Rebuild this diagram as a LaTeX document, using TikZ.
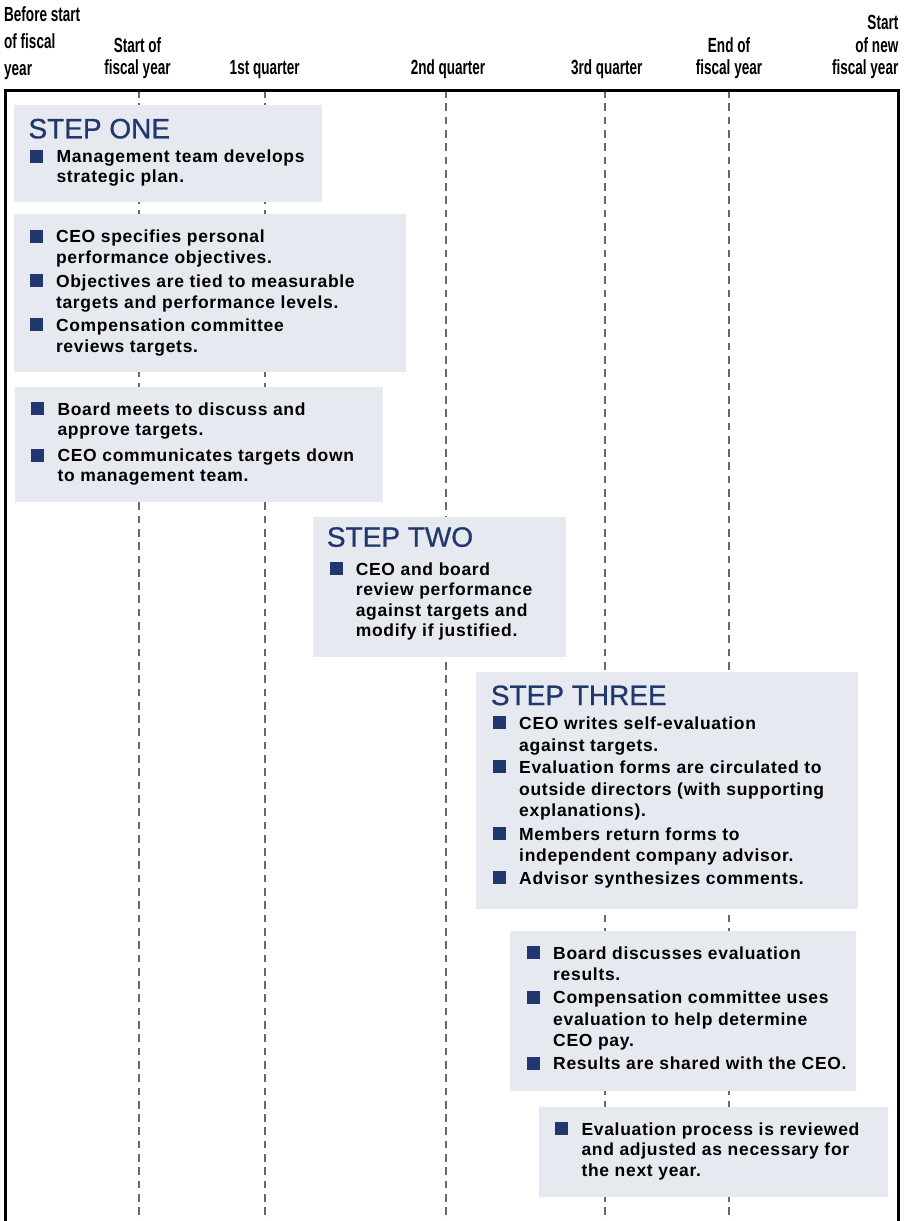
\documentclass[tikz,border=0pt]{standalone}
\usepackage{fontspec}
\setmainfont{Liberation Sans}
\newfontfamily\labelfont[FakeStretch=0.66]{Liberation Sans Bold}
\newfontfamily\bodyfont[LetterSpace=4]{Liberation Sans}
\newfontfamily\headfont[FakeBold=0.7]{Liberation Sans}
\usetikzlibrary{fit}

\definecolor{navy}{RGB}{33,56,110}
\definecolor{panelfill}{RGB}{230,233,239}
\definecolor{tickgray}{RGB}{105,105,105}

% navy square bullet followed by the indent of the item text
\newcommand\sqbullet{\makebox[26.3pt][l]{\textcolor{navy}{\rule{13pt}{13pt}}}}
% bulleted list; argument = line pitch
\newenvironment{bulletlist}[1]{\bodyfont\bfseries\fontsize{17.5}{#1}\selectfont\begin{tabular}[t]{@{}l@{}l@{}}}{\end{tabular}}
% stacked header label; arguments = column type, line pitch
\newenvironment{stack}[2]{\labelfont\fontsize{20.5}{#2}\selectfont\begin{tabular}[b]{@{}#1@{}}}{\end{tabular}}

\tikzset{
  panel/.style={fill=panelfill, draw=none, inner sep=0pt},
  heading/.style={anchor=base west, inner sep=0pt, text=navy, font=\headfont\fontsize{28}{30}\selectfont},
  items/.style={anchor=base west, inner sep=0pt},
  toplabel/.style={inner sep=0pt},
  timeline/.style={draw=tickgray, line width=2pt, dash pattern=on 7.7pt off 5.6pt},
  frame/.style={draw=black, line width=3pt}
}

\begin{document}
\begin{tikzpicture}[x=1pt, y=-1pt]
\useasboundingbox (0,0) rectangle (905,1221);

% time axis labels
\node[toplabel, anchor=base west] (lbefore) at (4,75) {\begin{stack}{l}{26.7}Before start\\ of fiscal\\ year\end{stack}};
\node[toplabel, anchor=base] (lstart) at (137.5,74.5) {\begin{stack}{c}{22.5}Start of\\ fiscal year\end{stack}};
\node[toplabel, anchor=base] (lq1) at (264.7,74.5) {\begin{stack}{c}{22.5}1st quarter\end{stack}};
\node[toplabel, anchor=base] (lq2) at (448,74.5) {\begin{stack}{c}{22.5}2nd quarter\end{stack}};
\node[toplabel, anchor=base] (lq3) at (606.8,74.5) {\begin{stack}{c}{22.5}3rd quarter\end{stack}};
\node[toplabel, anchor=base] (lend) at (729,74.5) {\begin{stack}{c}{22.5}End of\\ fiscal year\end{stack}};
\node[toplabel, anchor=base east] (lnew) at (898.5,74.5) {\begin{stack}{r}{22.5}Start\\ of new\\ fiscal year\end{stack}};

% dashed time markers
\foreach \name/\x in {tstart/139, tq1/265, tq2/446, tq3/605, tend/729}{
  \coordinate (\name-top) at (\x,90);
  \coordinate (\name-bot) at (\x,1221);
  \draw[timeline] (\name-top) -- (\name-bot);
}

% open frame
\coordinate (fbl) at (5,1225);
\coordinate (ftl) at (5,90);
\coordinate (ftr) at (898,90);
\coordinate (fbr) at (898,1225);
\draw[frame] (fbl) -- (ftl) -- (ftr) -- (fbr);

% panels
\node[panel, fit={(14,105) (322,202)}] (p1) {};
\node[panel, fit={(14,214) (406,372)}] (p2) {};
\node[panel, fit={(14.7,387.3) (382.7,501.7)}] (p3) {};
\node[panel, fit={(312.7,517.3) (565.7,656.7)}] (p4) {};
\node[panel, fit={(476,672) (857.7,909.3)}] (p5) {};
\node[panel, fit={(510,931) (856,1090.7)}] (p6) {};
\node[panel, fit={(539,1107.3) (887.7,1196.7)}] (p7) {};

% step one
\node[heading] (h1) at (28.3,138.3) {STEP ONE};
\node[items] (t1) at (30,162.7) {\begin{bulletlist}{20}
\sqbullet & Management team develops\\
 & strategic plan.
\end{bulletlist}};

\node[items] (t2) at (29.5,242.7) {\begin{bulletlist}{20.8}
\sqbullet & CEO specifies personal\\
 & performance objectives.\\[3pt]
\sqbullet & Objectives are tied to measurable\\
 & targets and performance levels.\\[2.5pt]
\sqbullet & Compensation committee\\
 & reviews targets.
\end{bulletlist}};

\node[items] (t3) at (31,415) {\begin{bulletlist}{20}
\sqbullet & Board meets to discuss and\\
 & approve targets.\\[6.7pt]
\sqbullet & CEO communicates targets down\\
 & to management team.
\end{bulletlist}};

% step two
\node[heading] (h2) at (326.7,546.7) {STEP TWO};
\node[items] (t4) at (329.3,575) {\begin{bulletlist}{20.5}
\sqbullet & CEO and board\\
 & review performance\\
 & against targets and\\
 & modify if justified.
\end{bulletlist}};

% step three
\node[heading] (h3) at (490.7,705) {STEP THREE};
\node[items] (t5) at (492.7,729.3) {\begin{bulletlist}{21.7}
\sqbullet & CEO writes self-evaluation\\
 & against targets.\\[0.6pt]
\sqbullet & Evaluation forms are circulated to\\
 & outside directors (with supporting\\
 & explanations).\\[1.6pt]
\sqbullet & Members return forms to\\
 & independent company advisor.\\[0.9pt]
\sqbullet & Advisor synthesizes comments.
\end{bulletlist}};

\node[items] (t6) at (526.7,959.3) {\begin{bulletlist}{21.5}
\sqbullet & Board discusses evaluation\\
 & results.\\[1.2pt]
\sqbullet & Compensation committee uses\\
 & evaluation to help determine\\
 & CEO pay.\\[1.5pt]
\sqbullet & Results are shared with the CEO.
\end{bulletlist}};

\node[items] (t7) at (555,1135) {\begin{bulletlist}{20.9}
\sqbullet & Evaluation process is reviewed\\
 & and adjusted as necessary for\\
 & the next year.
\end{bulletlist}};
\end{tikzpicture}
\end{document}
